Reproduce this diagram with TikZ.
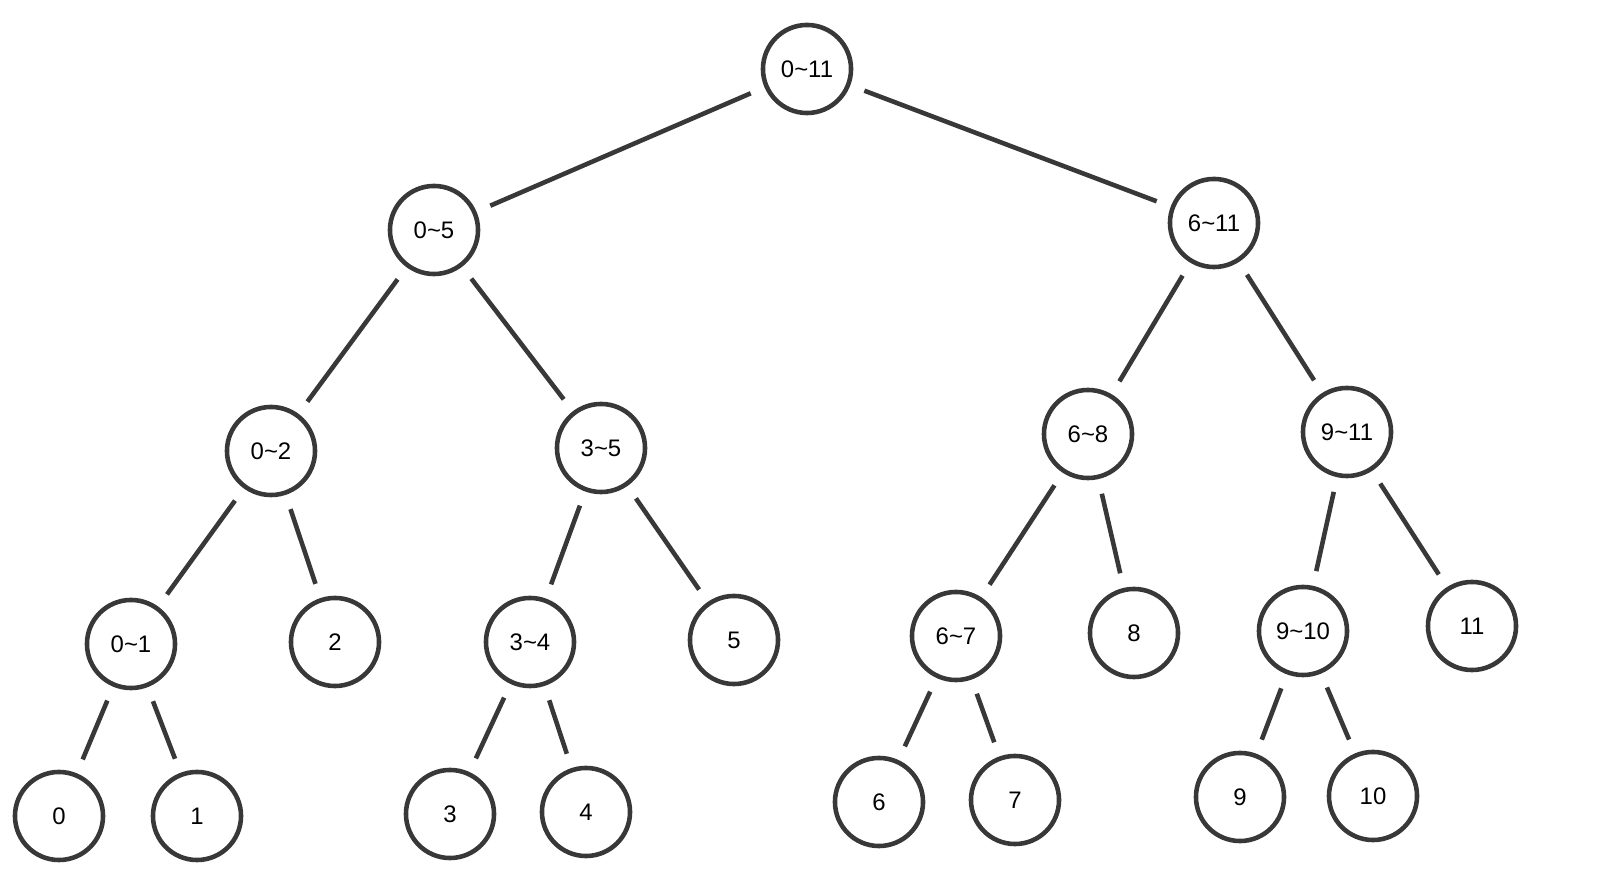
\documentclass[tikz,border=0pt]{standalone}
\usepackage{fontspec}
\setmainfont{Liberation Sans}
\begin{document}
\begin{tikzpicture}[x=0.01cm,y=-0.01cm,
  tnode/.style={circle,draw=black!78,line width=1.3pt,minimum size=0.88cm,inner sep=0pt,font=\fontsize{6.8}{8}\selectfont},
  tedge/.style={draw=black!78,line width=1.3pt,shorten <=0.15cm,shorten >=0.15cm}]
\useasboundingbox (0,0) rectangle (1600,880);
\node[tnode] (r) at (807,69) {0\textasciitilde11};
\node[tnode] (a) at (434,230) {0\textasciitilde5};
\node[tnode] (b) at (1214,223) {6\textasciitilde11};
\node[tnode] (a1) at (271,451) {0\textasciitilde2};
\node[tnode] (a2) at (601,448) {3\textasciitilde5};
\node[tnode] (b1) at (1088,434) {6\textasciitilde8};
\node[tnode] (b2) at (1347,432) {9\textasciitilde11};
\node[tnode] (a11) at (131,644) {0\textasciitilde1};
\node[tnode] (n2) at (335,642) {2};
\node[tnode] (a21) at (530,642) {3\textasciitilde4};
\node[tnode] (n5) at (734,640) {5};
\node[tnode] (b11) at (956,636) {6\textasciitilde7};
\node[tnode] (n8) at (1134,633) {8};
\node[tnode] (b21) at (1303,631) {9\textasciitilde10};
\node[tnode] (n11) at (1472,626) {11};
\node[tnode] (n0) at (59,816) {0};
\node[tnode] (n1) at (197,816) {1};
\node[tnode] (n3) at (450,814) {3};
\node[tnode] (n4) at (586,812) {4};
\node[tnode] (n6) at (879,802) {6};
\node[tnode] (n7) at (1015,800) {7};
\node[tnode] (n9) at (1240,797) {9};
\node[tnode] (n10) at (1373,796) {10};
\foreach \p/\c in {r/a,r/b,a/a1,a/a2,b/b1,b/b2,a1/a11,a1/n2,a2/a21,a2/n5,b1/b11,b1/n8,b2/b21,b2/n11,a11/n0,a11/n1,a21/n3,a21/n4,b11/n6,b11/n7,b21/n9,b21/n10}
  \draw[tedge] (\p) -- (\c);
\end{tikzpicture}
\end{document}
